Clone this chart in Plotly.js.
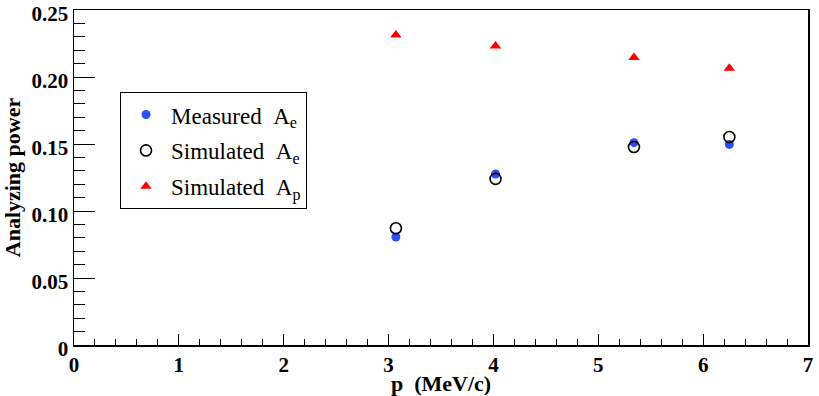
<!DOCTYPE html>
<html>
<head>
<meta charset="utf-8">
<script src="https://cdn.plot.ly/plotly-3.0.1.min.js"></script>
<style>
  body { margin: 0; background: #ffffff; }
  #chart { width: 819px; height: 396px; }
</style>
</head>
<body>
<div id="chart"></div>
<script>
// momentum values (MeV/c)
var momentum = [3.07, 4.02, 5.34, 6.25];
var measuredAe = [0.0806, 0.1276, 0.1510, 0.1497];
var simulatedAe = [0.0871, 0.1240, 0.1478, 0.1552];
var simulatedAp = [0.2313, 0.2231, 0.2146, 0.2066];
var simulatedApErr = [0, 0, 0.0012, 0.0012];

var yTickVals = [0, 0.05, 0.10, 0.15, 0.20, 0.25];
var yTickText = ['0', '0.05', '0.10', '0.15', '0.20', '0.25'];

var serif = '"Liberation Serif", "Times New Roman", serif';

var trace1 = {
    x: momentum,
    y: measuredAe,
    type: 'scatter',
    mode: 'markers',
    name: 'Measured&nbsp;&nbsp;A<sub>e</sub>',
    legendgroup: 'g1',
    marker: {symbol: 'circle', size: 9, color: '#2a4ff5'}
};

var trace2 = {
    x: momentum,
    y: simulatedAe,
    type: 'scatter',
    mode: 'markers',
    name: 'Simulated&nbsp;&nbsp;A<sub>e</sub>',
    legendgroup: 'g2',
    marker: {symbol: 'circle-open', size: 11, color: '#000000', line: {width: 1.6, color: '#000000'}}
};

var trace3 = {
    x: momentum,
    y: simulatedAp,
    type: 'scatter',
    mode: 'markers',
    name: 'Simulated&nbsp;&nbsp;A<sub>p</sub>',
    legendgroup: 'g3',
    error_y: {type: 'data', array: simulatedApErr, visible: true, color: '#000000', thickness: 1, width: 2},
    marker: {symbol: 'triangle-up', size: 10, color: '#ff0000'}
};

var data = [trace1, trace2, trace3];

var layout = {
    width: 819,
    height: 396,
    margin: {l: 74, r: 11, t: 10, b: 51},
    paper_bgcolor: '#ffffff',
    plot_bgcolor: '#ffffff',
    font: {family: serif, size: 20, color: '#000000'},
    showlegend: true,
    legend: {
        x: 0.0627, y: 0.755,
        xanchor: 'left', yanchor: 'top',
        bgcolor: '#ffffff',
        bordercolor: '#000000',
        borderwidth: 1,
        tracegroupgap: 3,
        itemwidth: 40,
        font: {family: serif, size: 23, color: '#000000'}
    },
    xaxis: {
        range: [0, 7],
        dtick: 1,
        tick0: 0,
        ticks: 'inside',
        ticklen: 11,
        tickwidth: 1,
        tickcolor: '#000000',
        minor: {ticks: 'inside', ticklen: 6, dtick: 0.2, tickwidth: 1, tickcolor: '#000000'},
        showgrid: false,
        zeroline: false,
        showline: true,
        mirror: true,
        linecolor: '#000000',
        linewidth: 1.5,
        ticklabeloverflow: 'allow',
        tickfont: {family: serif, size: 21, weight: 'bold'},
        title: {text: 'p&nbsp;&nbsp;(MeV/c)', font: {family: serif, size: 22, weight: 'bold'}, standoff: 3}
    },
    yaxis: {
        range: [0, 0.25],
        tickvals: yTickVals,
        ticktext: yTickText,
        ticks: 'inside',
        ticklen: 21,
        tickwidth: 1,
        tickcolor: '#000000',
        minor: {ticks: 'inside', ticklen: 11, dtick: 0.01, tick0: 0, tickwidth: 1, tickcolor: '#000000'},
        showgrid: false,
        zeroline: false,
        showline: true,
        mirror: true,
        linecolor: '#000000',
        linewidth: 1.5,
        ticklabeloverflow: 'allow',
        ticklabelshift: 4,
        tickfont: {family: serif, size: 21, weight: 'bold'},
        title: {text: 'Analyzing power', font: {family: serif, size: 22, weight: 'bold'}, standoff: 6}
    }
};

Plotly.newPlot('chart', data, layout, {displayModeBar: false, staticPlot: true});
</script>
</body>
</html>
